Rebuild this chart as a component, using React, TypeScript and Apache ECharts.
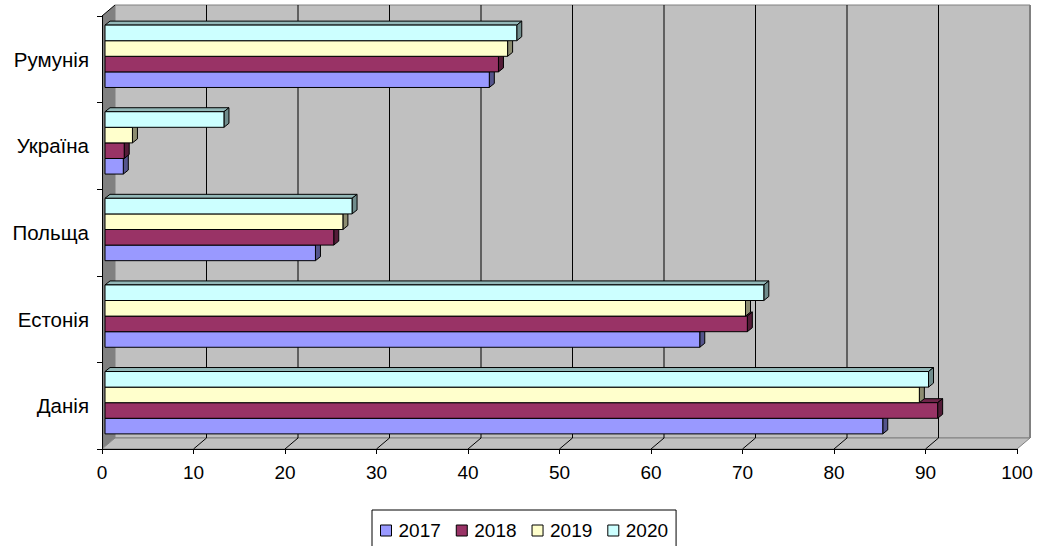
import React, { useEffect, useRef } from "react";
import * as echarts from "echarts";

// Countries on the category axis (bottom to top)
const CATEGORIES = ["Данія", "Естонія", "Польща", "Україна", "Румунія"];
const YEARS = ["2017", "2018", "2019", "2020"];

// Values per year, in category order
const V2017 = [85, 65, 23, 2, 42];
const V2018 = [91, 70.2, 25, 2.1, 43];
const V2019 = [89, 70, 26, 3, 44];
const V2020 = [90, 72, 27, 13, 45];

const X_TICKS = [0, 10, 20, 30, 40, 50, 60, 70, 80, 90, 100];

const COLORS = ["#9999FF", "#993366", "#FFFFCC", "#CCFFFF"];
const FONT = "'Liberation Sans', Arial, sans-serif";

// oblique projection offsets
const WALL_D = [13, -11];
const BAR_INSET = [3, -3];
const BAR_D = [5, -4];
const GROUP_RATIO = 0.72;

function shade(hex: string, k: number): string {
  const n = parseInt(hex.slice(1), 16);
  const r = Math.round(((n >> 16) & 255) * k);
  const g = Math.round(((n >> 8) & 255) * k);
  const b = Math.round((n & 255) * k);
  return `rgb(${r},${g},${b})`;
}

function renderWalls(params: any, api: any) {
  const cs = params.coordSys;
  const X0 = cs.x;
  const X1 = cs.x + cs.width;
  const Y0 = cs.y;
  const Y1 = cs.y + cs.height;
  const [dx, dy] = WALL_D;
  const children: any[] = [];
  // back wall
  children.push({
    type: "polygon",
    shape: {
      points: [
        [X0 + dx, Y0 + dy],
        [X1 + dx, Y0 + dy],
        [X1 + dx, Y1 + dy],
        [X0 + dx, Y1 + dy],
      ],
    },
    style: { fill: "#C0C0C0", stroke: "#808080", lineWidth: 1 },
  });
  // right wall edge, slightly heavier
  children.push({
    type: "line",
    shape: { x1: X1 + dx, y1: Y0 + dy, x2: X1 + dx, y2: Y1 + dy },
    style: { stroke: "#808080", lineWidth: 2 },
  });
  // side wall
  children.push({
    type: "polygon",
    shape: {
      points: [
        [X0, Y0],
        [X0 + dx, Y0 + dy],
        [X0 + dx, Y1 + dy],
        [X0, Y1],
      ],
    },
    style: { fill: "#808080" },
  });
  children.push({
    type: "line",
    shape: { x1: X0, y1: Y0, x2: X0 + dx, y2: Y0 + dy },
    style: { stroke: "#000", lineWidth: 1 },
  });
  // floor
  children.push({
    type: "polygon",
    shape: {
      points: [
        [X0, Y1],
        [X1, Y1],
        [X1 + dx, Y1 + dy],
        [X0 + dx, Y1 + dy],
      ],
    },
    style: { fill: "#C0C0C0", stroke: "#808080", lineWidth: 1 },
  });
  // gridlines on wall and floor
  X_TICKS.forEach((v) => {
    const x = api.coord([v, 0])[0];
    if (v > 0 && v < 100) {
      children.push({
        type: "line",
        shape: { x1: x + dx, y1: Y0 + dy, x2: x + dx, y2: Y1 + dy },
        style: { stroke: "#000", lineWidth: 1 },
      });
      children.push({
        type: "line",
        shape: { x1: x, y1: Y1, x2: x + dx, y2: Y1 + dy },
        style: { stroke: "#000", lineWidth: 1 },
      });
    }
  });
  return { type: "group", children };
}

function makeBarRenderer(s: number) {
  const base = COLORS[s];
  const top = shade(base, 0.72);
  const side = shade(base, 0.55);
  return (params: any, api: any) => {
    const v = api.value(0);
    const idx = api.value(1);
    const cy = api.coord([0, idx])[1];
    const band = api.size([0, 1])[1];
    const h = (band * GROUP_RATIO) / 4;
    const yb = cy + (band * GROUP_RATIO) / 2 + BAR_INSET[1] - s * h;
    const yt = yb - h;
    const x0 = api.coord([0, idx])[0] + BAR_INSET[0];
    const x1 = api.coord([v, idx])[0] + BAR_INSET[0];
    const [dx, dy] = BAR_D;
    const stroke = { stroke: "#000", lineWidth: 1 };
    return {
      type: "group",
      children: [
        {
          type: "polygon",
          shape: {
            points: [
              [x0, yt],
              [x1, yt],
              [x1 + dx, yt + dy],
              [x0 + dx, yt + dy],
            ],
          },
          style: { fill: top, ...stroke },
        },
        {
          type: "polygon",
          shape: {
            points: [
              [x1, yt],
              [x1 + dx, yt + dy],
              [x1 + dx, yb + dy],
              [x1, yb],
            ],
          },
          style: { fill: side, ...stroke },
        },
        {
          type: "rect",
          shape: { x: x0, y: yt, width: x1 - x0, height: h },
          style: { fill: base, ...stroke },
        },
      ],
    };
  };
}

export default function App() {
  const ref = useRef<HTMLDivElement>(null);

  useEffect(() => {
    document.body.style.margin = "0";
    if (!ref.current) return;
    const chart = echarts.init(ref.current, null, { renderer: "svg" });
    const seriesValues = [V2017, V2018, V2019, V2020];

    const barSeries = YEARS.map((year, s) => ({
      name: year,
      type: "custom",
      clip: false,
      z: 2,
      itemStyle: { color: COLORS[s] },
      renderItem: makeBarRenderer(s),
      encode: { x: 0, y: 1 },
      data: seriesValues[s].map((v, i) => [v, i]),
    }));

    chart.setOption({
      animation: false,
      backgroundColor: "#fff",
      textStyle: { fontFamily: FONT },
      grid: { left: 102, right: 25, top: 16, bottom: 97 },
      xAxis: {
        type: "value",
        min: 0,
        max: 100,
        interval: 10,
        z: 10,
        axisLine: { show: true, lineStyle: { color: "#000", width: 1 } },
        axisTick: { show: true, length: 5, lineStyle: { color: "#000" } },
        splitLine: { show: false },
        axisLabel: { color: "#000", fontSize: 19, margin: 14, fontFamily: FONT },
      },
      yAxis: {
        type: "category",
        data: CATEGORIES,
        z: 10,
        axisLine: { show: true, lineStyle: { color: "#000", width: 1 } },
        axisTick: { show: true, length: 5, lineStyle: { color: "#000" } },
        splitLine: { show: false },
        axisLabel: { color: "#000", fontSize: 20.5, margin: 13, fontFamily: FONT },
      },
      legend: {
        left: 372,
        top: 510,
        orient: "horizontal",
        icon: "rect",
        itemWidth: 11,
        itemHeight: 11,
        itemGap: 15,
        padding: [11, 8, 11, 8],
        borderColor: "#000",
        borderWidth: 1,
        selectedMode: false,
        textStyle: { color: "#000", fontSize: 19, fontFamily: FONT, padding: [0, 0, 0, 2] },
        data: YEARS.map((y, s) => ({
          name: y,
          itemStyle: { color: COLORS[s], borderColor: "#000", borderWidth: 1 },
        })),
      },
      series: [
        {
          name: "walls",
          type: "custom",
          clip: false,
          silent: true,
          z: 1,
          renderItem: renderWalls,
          encode: { x: 0, y: 1 },
          data: [[0, 0]],
        },
        ...barSeries,
      ],
    });

    return () => chart.dispose();
  }, []);

  return <div ref={ref} style={{ width: 1042, height: 546 }} />;
}
